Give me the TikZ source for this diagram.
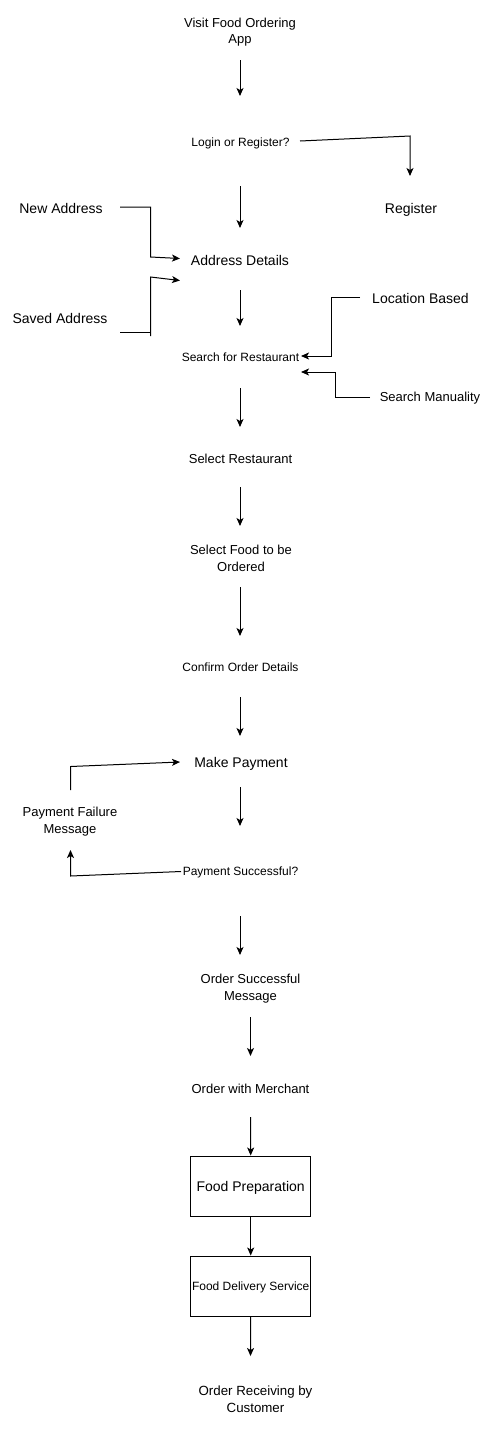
\documentclass[tikz,border=0pt]{standalone}
\usepackage{fontspec}
\setmainfont{Liberation Sans}
\usetikzlibrary{arrows.meta}
\tikzset{
  x=1pt,y=-1pt,
  lbl/.style={inner sep=0pt, align=center, yshift=-1.5pt},
  sm/.style={lbl, font=\fontsize{12}{16.5}\selectfont},
  md/.style={lbl, font=\fontsize{13}{16.5}\selectfont},
  lg/.style={lbl, font=\fontsize{14}{17}\selectfont},
  box/.style={draw, line width=1pt, minimum width=120pt, minimum height=60pt, inner sep=0pt, text depth=0pt},
  ln/.style={line width=1pt},
  arr/.style={line width=1pt, -{Stealth[length=8pt,width=7pt,inset=2pt]}},
}
\begin{document}
\begin{tikzpicture}
\useasboundingbox (0,0) rectangle (490,1436);
% nodes
\node[md] (visit) at (240,30.5) {Visit Food Ordering\\App};
\node[sm] (login) at (240.5,142) {Login or Register?};
\node[lg] (register) at (411,208) {Register};
\node[lg] (newaddr) at (61,207) {New Address};
\node[lg] (addr) at (240,259) {Address Details};
\node[lg] (saved) at (60,317) {Saved Address};
\node[lg] (locb) at (420.5,297) {Location Based};
\node[sm] (search) at (240.5,356) {Search for Restaurant};
\node[md] (manual) at (430,397) {Search Manuality};
\node[md] (selrest) at (240.5,457) {Select Restaurant};
\node[md] (selfood) at (241,557) {Select Food to be\\Ordered};
\node[sm] (confirm) at (240.5,666) {Confirm Order Details};
\node[lg] (pay) at (241,762) {Make Payment};
\node[md] (fail) at (70,820) {Payment Failure\\Message};
\node[sm] (succ) at (240.5,871) {Payment Successful?};
\node[md] (osucc) at (250.5,987) {Order Successful\\Message};
\node[md] (merch) at (250.5,1087) {Order with Merchant};
\node[box, font=\fontsize{14}{17}\selectfont] (prep) at (250.7,1186) {Food Preparation};
\node[box, font=\fontsize{12}{14}\selectfont] (deliv) at (250.7,1286) {Food Delivery Service};
\node[lbl, font=\fontsize{13.3}{16.5}\selectfont] (recv) at (255.5,1397.5) {Order Receiving by\\Customer};
% free connector ends
\coordinate (a1s) at (240,60);   \coordinate (a1e) at (240,96);
\coordinate (r1) at (300,141);   \coordinate (r2) at (410,136);  \coordinate (r3) at (410,176);
\coordinate (a2s) at (240,186);  \coordinate (a2e) at (240,228);
\coordinate (n1) at (120,207);   \coordinate (n2) at (150.5,207); \coordinate (n3) at (150.5,257); \coordinate (n4) at (180,258.5);
\coordinate (s1) at (120,332);   \coordinate (s2) at (150.5,332); \coordinate (s3) at (150.5,336); \coordinate (s4) at (150.5,277); \coordinate (s5) at (180,280.5);
\coordinate (a3s) at (240,290);  \coordinate (a3e) at (240,326);
\coordinate (l1) at (360,297);   \coordinate (l2) at (331,297);  \coordinate (l3) at (331,356); \coordinate (l4) at (301,356);
\coordinate (m1) at (370,397);   \coordinate (m2) at (335,397);  \coordinate (m3) at (335,372); \coordinate (m4) at (301,372);
\coordinate (a4s) at (240,388);  \coordinate (a4e) at (240,427);
\coordinate (a5s) at (240,487);  \coordinate (a5e) at (240,526);
\coordinate (a6s) at (240,587);  \coordinate (a6e) at (240,636);
\coordinate (a7s) at (240,697);  \coordinate (a7e) at (240,736);
\coordinate (a8s) at (240,787);  \coordinate (a8e) at (240,826);
\coordinate (f1) at (181,871.5); \coordinate (f2) at (70.5,876); \coordinate (f3) at (70.5,850);
\coordinate (g1) at (70.5,790);  \coordinate (g2) at (70.5,766.5); \coordinate (g3) at (180,762);
\coordinate (a9s) at (240,916);  \coordinate (a9e) at (240,955);
\coordinate (a10s) at (250.5,1017); \coordinate (a10e) at (250.5,1056);
\coordinate (a11s) at (250.5,1117);
\coordinate (a12e) at (250.5,1356);
% connectors
\draw[arr] (a1s) -- (a1e);
\draw[arr] (r1) -- (r2) -- (r3);
\draw[arr] (a2s) -- (a2e);
\draw[arr] (n1) -- (n2) -- (n3) -- (n4);
\draw[ln] (s1) -- (s2);
\draw[arr] (s3) -- (s4) -- (s5);
\draw[arr] (a3s) -- (a3e);
\draw[arr] (l1) -- (l2) -- (l3) -- (l4);
\draw[arr] (m1) -- (m2) -- (m3) -- (m4);
\draw[arr] (a4s) -- (a4e);
\draw[arr] (a5s) -- (a5e);
\draw[arr] (a6s) -- (a6e);
\draw[arr] (a7s) -- (a7e);
\draw[arr] (a8s) -- (a8e);
\draw[arr] (f1) -- (f2) -- (f3);
\draw[arr] (g1) -- (g2) -- (g3);
\draw[arr] (a9s) -- (a9e);
\draw[arr] (a10s) -- (a10e);
\draw[arr] (a11s) -- (prep.north);
\draw[arr] (prep.south) -- (deliv.north);
\draw[arr] (deliv.south) -- (a12e);
\end{tikzpicture}
\end{document}
